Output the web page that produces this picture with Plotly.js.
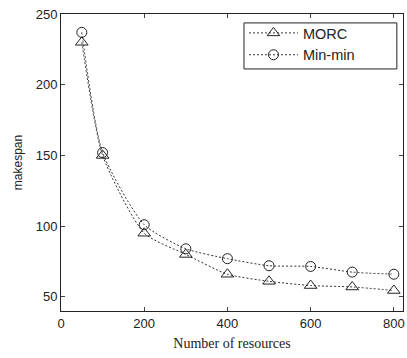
<!DOCTYPE html>
<html>
<head>
<meta charset="utf-8">
<script src="https://cdn.plot.ly/plotly-3.0.1.min.js"></script>
<style>html,body{margin:0;padding:0;background:#fff;}#chart{width:407px;height:358px;}</style>
</head>
<body>
<div id="chart"></div>
<script>
var resources = [50, 100, 200, 300, 400, 500, 600, 700, 800];
var morc = [230, 150, 95, 80, 66, 61, 58, 57, 54.5];
var minmin = [237, 152, 101, 84, 77, 72, 71.5, 67.5, 66];

var lineStyle = {color: '#333', width: 1, dash: '2px,2px', shape: 'spline', smoothing: 0.6};
var traces = [
  {x: resources, y: morc, name: 'MORC', mode: 'lines+markers', line: lineStyle,
   marker: {symbol: 'triangle-up-open', size: 11, color: '#222', line: {width: 1, color: '#222'}}},
  {x: resources, y: minmin, name: 'Min-min', mode: 'lines+markers', line: lineStyle,
   marker: {symbol: 'circle-open', size: 10, color: '#222', line: {width: 1, color: '#222'}}}
];
var layout = {
  width: 407, height: 358,
  margin: {l: 61, r: 4, t: 14, b: 47},
  paper_bgcolor: '#fff', plot_bgcolor: '#fff',
  font: {family: 'Liberation Sans, Arial, sans-serif', size: 13, color: '#222'},
  showlegend: true,
  legend: {x: 0.535, y: 0.99, xanchor: 'left', yanchor: 'top', borderwidth: 0,
           bgcolor: 'rgba(0,0,0,0)', font: {size: 14.5, color: '#222'}, tracegroupgap: 2, itemwidth: 49},
  shapes: [{type: 'rect', xref: 'paper', yref: 'paper', x0: 0.535, x1: 0.982, y0: 0.815, y1: 0.970,
            line: {color: '#222', width: 1}, fillcolor: '#fff', layer: 'below'}],
  xaxis: {range: [0, 822], tickvals: [0, 200, 400, 600, 800], ticks: 'inside', ticklen: 4,
          showline: true, linecolor: '#222', linewidth: 1, mirror: 'ticks', showgrid: false, zeroline: false,
          tickfont: {size: 13, color: '#222'},
          title: {text: 'Number of resources', font: {family: 'Liberation Serif, Times New Roman, serif', size: 14, color: '#222'}, standoff: 8}},
  yaxis: {range: [40, 250], tickvals: [50, 100, 150, 200, 250], ticks: 'inside', ticklen: 4,
          showline: true, linecolor: '#222', linewidth: 1, mirror: 'ticks', showgrid: false, zeroline: false,
          tickfont: {size: 13, color: '#222'},
          title: {text: 'makespan', font: {size: 12, color: '#222'}, standoff: 10}}
};
Plotly.newPlot('chart', traces, layout, {displayModeBar: false, staticPlot: true});
</script>
</body>
</html>
